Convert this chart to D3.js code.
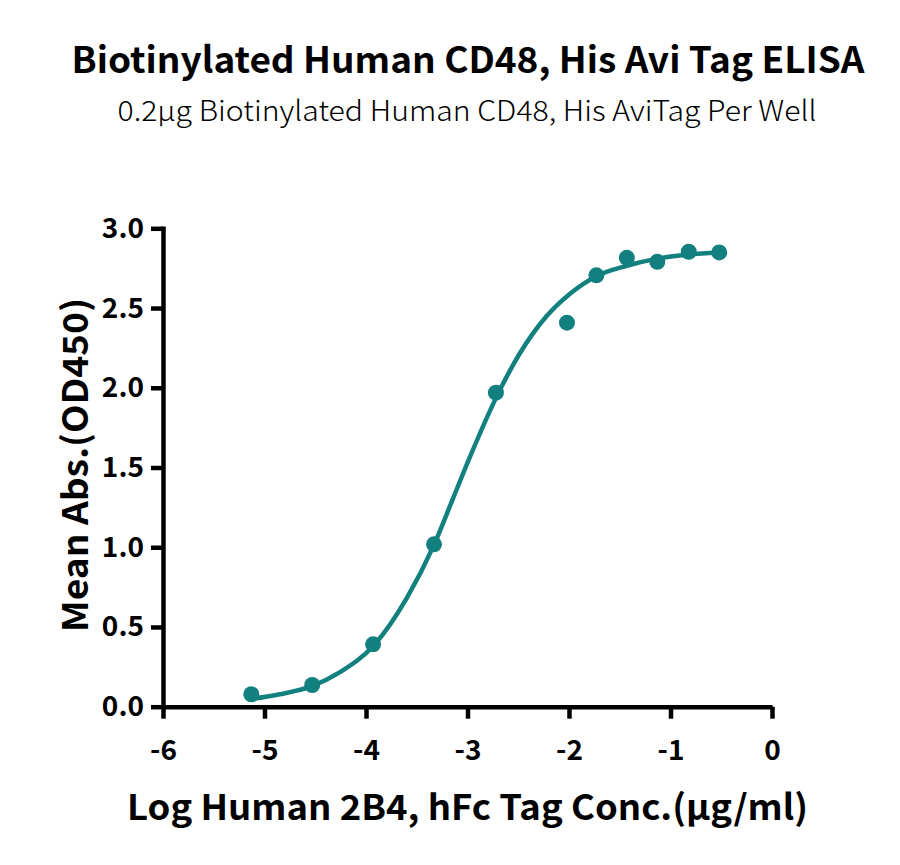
<!DOCTYPE html>
<html>
<head>
<meta charset="utf-8">
<script src="https://cdn.jsdelivr.net/npm/d3@7"></script>
<style>
  body { margin: 0; background: #fff; }
  svg text { font-family: "Noto Sans CJK SC", "Noto Sans", sans-serif; fill: #000; }
</style>
</head>
<body>
<svg id="chart" width="900" height="865"></svg>
<script>
// measured points: log conc vs mean OD450
const logConc = [-5.13, -4.53, -3.93, -3.33, -2.72, -2.02, -1.73, -1.43, -1.13, -0.82, -0.52];
const meanAbs = [0.078, 0.136, 0.391, 1.018, 1.969, 2.408, 2.705, 2.815, 2.790, 2.853, 2.849];

// fitted curve
const fitX = [-5.13, -4.85, -4.54, -4.26, -3.92, -3.60, -3.33, -3.14, -2.98, -2.72, -2.49, -2.22, -1.99, -1.73, -1.43, -1.13, -0.82, -0.52];
const fitY = [0.048, 0.078, 0.127, 0.215, 0.387, 0.68, 1.015, 1.31, 1.56, 1.935, 2.21, 2.45, 2.59, 2.70, 2.765, 2.81, 2.836, 2.849];

const xTicks = [-6, -5, -4, -3, -2, -1, 0];
const yTicks = [0, 0.5, 1.0, 1.5, 2.0, 2.5, 3.0];

const color = '#12807f';
const fontFamily = '"Noto Sans CJK SC", "Noto Sans", sans-serif';

const svg = d3.select('#chart');

const x = d3.scaleLinear().domain([-6, 0]).range([163, 772]);
const y = d3.scaleLinear().domain([0, 3]).range([706.7, 228.3]);

const yAxis = g => g
  .attr('transform', `translate(${x(-6)},0)`)
  .call(d3.axisLeft(y).tickValues(yTicks).tickFormat(d => d.toFixed(1))
    .tickSize(12).tickSizeOuter(0).tickPadding(7))
  .call(g => g.selectAll('path, line').attr('stroke', '#000').attr('stroke-width', 4.5))
  .call(g => g.select('.domain').attr('stroke-linecap', 'square'))
  .call(g => g.selectAll('text')
    .attr('font-size', 28).attr('font-weight', 700)
    .style('font-family', fontFamily));

const xAxis = g => g
  .attr('transform', `translate(0,${y(0)})`)
  .call(d3.axisBottom(x).tickValues(xTicks).tickFormat(d => String(d))
    .tickSize(12).tickSizeOuter(0).tickPadding(21))
  .call(g => g.selectAll('path, line').attr('stroke', '#000').attr('stroke-width', 4.5))
  .call(g => g.selectAll('text')
    .attr('font-size', 28).attr('font-weight', 700)
    .style('font-family', fontFamily));

svg.append('g').call(xAxis);
svg.append('g').call(yAxis);

// curve
const line = d3.line()
  .x(d => x(d[0]))
  .y(d => y(d[1]))
  .curve(d3.curveMonotoneX);

svg.append('path')
  .datum(d3.zip(fitX, fitY))
  .attr('fill', 'none')
  .attr('stroke', color)
  .attr('stroke-width', 4.5)
  .attr('d', line);

svg.append('g')
  .attr('fill', color)
  .selectAll('circle')
  .data(d3.zip(logConc, meanAbs))
  .join('circle')
  .attr('cx', d => x(d[0]))
  .attr('cy', d => y(d[1]))
  .attr('r', 8);

// titles
svg.append('text')
  .attr('x', 468).attr('y', 73)
  .attr('text-anchor', 'middle')
  .attr('font-size', 36).attr('font-weight', 700)
  .attr('textLength', 793).attr('lengthAdjust', 'spacingAndGlyphs')
  .text('Biotinylated Human CD48, His Avi Tag ELISA');

svg.append('text')
  .attr('x', 467).attr('y', 121)
  .attr('text-anchor', 'middle')
  .attr('font-size', 28).attr('font-weight', 300)
  .attr('textLength', 699).attr('lengthAdjust', 'spacingAndGlyphs')
  .text('0.2µg Biotinylated Human CD48, His AviTag Per Well');

svg.append('text')
  .attr('x', 467.5).attr('y', 820)
  .attr('text-anchor', 'middle')
  .attr('font-size', 35).attr('font-weight', 700)
  .attr('textLength', 681).attr('lengthAdjust', 'spacingAndGlyphs')
  .text('Log Human 2B4, hFc Tag Conc.(µg/ml)');

svg.append('text')
  .attr('transform', 'translate(88,465) rotate(-90)')
  .attr('text-anchor', 'middle')
  .attr('font-size', 35).attr('font-weight', 700)
  .attr('textLength', 334).attr('lengthAdjust', 'spacingAndGlyphs')
  .text('Mean Abs.(OD450)');
</script>
</body>
</html>
